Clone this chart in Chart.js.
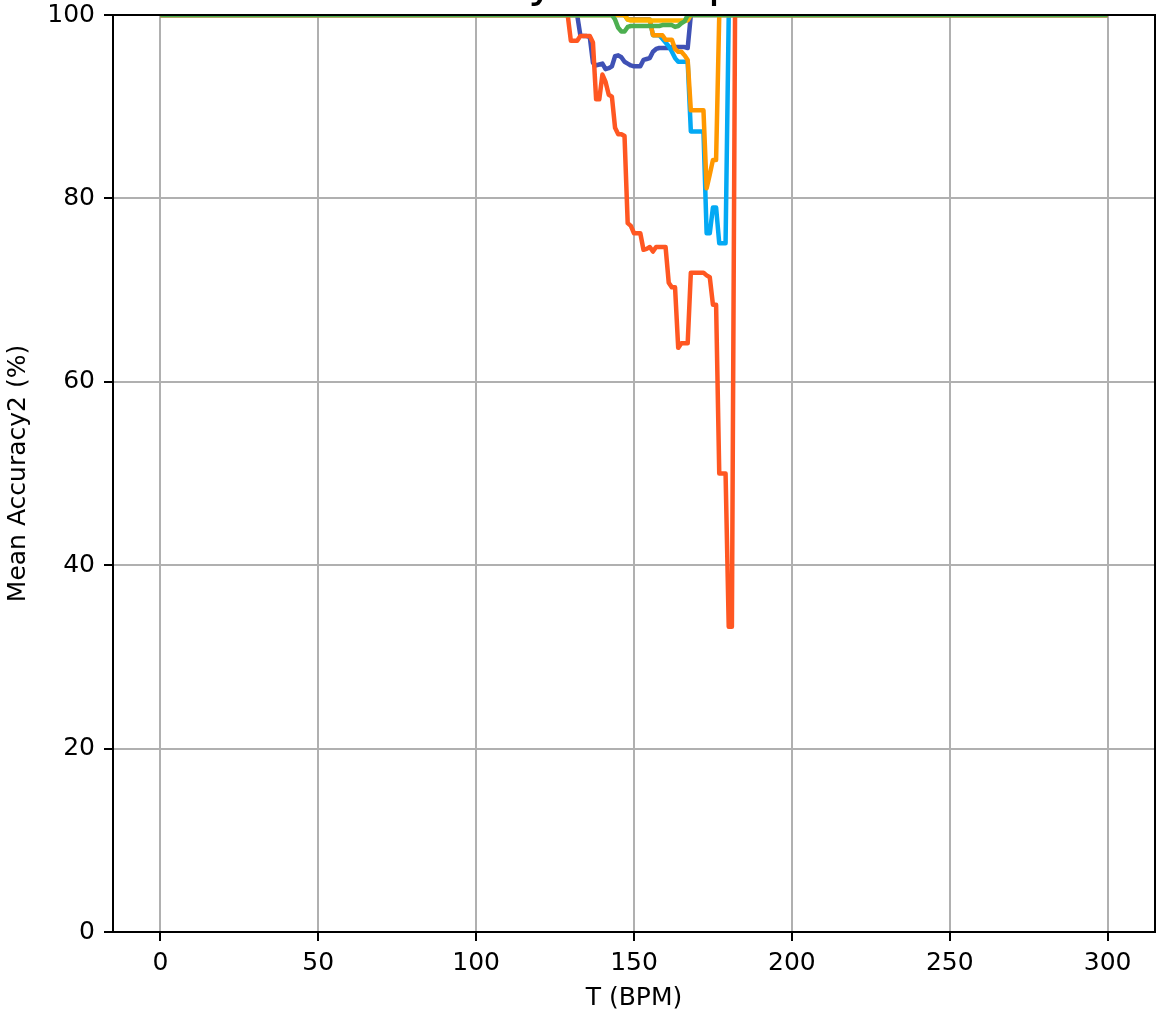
<!DOCTYPE html>
<html><head><meta charset="utf-8">
<script src="https://cdn.jsdelivr.net/npm/chart.js@4/dist/chart.umd.min.js"></script>
<style>html,body{margin:0;padding:0;background:#fff}canvas{display:block}</style>
</head><body>
<canvas id="c" width="1166" height="1017"></canvas>
<script>
// Tempo values (BPM) where the curves are sampled
const T = [0,
 127,128,129,130,131,132,133,134,135,136,137,138,139,140,141,142,143,144,145,146,
 147,148,149,150,151,152,153,154,155,156,157,158,159,160,161,162,163,164,165,166,
 167,168,169,170,171,172,173,174,175,176,177,178,179,180,181,182,183,
 300];

const indigoAcc = [100,
 100,100,100,100,100,100,97.8,97.7,97.7,97.6,94.8,94.5,94.6,94.7,94.1,94.2,94.4,95.5,95.6,95.4,
 94.9,94.7,94.5,94.4,94.4,94.4,95.1,95.2,95.3,96.0,96.3,96.4,96.4,96.4,96.4,96.5,96.5,96.5,96.5,96.5,
 96.4,100,100,100,100,100,100,100,100,100,100,100,100,100,100,100,100,
 100];

const lightBlueAcc = [100,
 100,100,100,100,100,100,100,100,100,100,100,100,100,100,100,100,100,100,100,100,
 100,99.5,99.5,99.5,99.5,99.5,99.5,99.5,99.5,97.8,97.8,97.8,97.4,97.0,96.6,96.0,95.3,94.9,94.9,94.9,
 94.9,87.3,87.3,87.3,87.3,87.3,76.2,76.2,79.0,79.0,75.1,75.1,75.1,100,100,100,100,
 100];

const orangeAcc = [100,
 100,100,100,100,100,100,100,100,100,100,100,100,100,100,100,100,100,100,100,100,
 100,99.5,99.5,99.5,99.5,99.5,99.5,99.5,99.5,97.8,97.8,97.8,97.8,97.3,97.3,97.3,96.3,96.0,96.0,95.6,
 95.1,89.6,89.6,89.6,89.6,89.6,81.1,82.6,84.2,84.2,100,100,100,100,100,100,100,
 100];

const amberAcc = [100,
 100,100,100,100,100,100,100,100,100,100,100,100,100,100,100,100,100,100,100,100,
 100,99.5,99.4,99.4,99.4,99.4,99.4,99.4,99.4,99.4,99.4,99.4,99.4,99.4,99.4,99.4,99.4,99.4,99.4,99.4,
 99.4,100,100,100,100,100,100,100,100,100,100,100,100,100,100,100,100,
 100];

const redAcc = [100,
 100,100,100,97.2,97.2,97.2,97.7,97.7,97.7,97.7,97.0,90.8,90.8,93.5,92.7,91.3,91.1,87.7,87.0,87.0,
 86.8,77.3,77.0,76.2,76.2,76.2,74.4,74.5,74.7,74.2,74.7,74.7,74.7,74.7,70.8,70.3,70.3,63.7,64.2,64.2,
 64.2,71.9,71.9,71.9,71.9,71.9,71.6,71.4,68.4,68.4,50.0,50.0,50.0,33.3,33.3,100,100,
 100];

const greenAcc = [100,
 100,100,100,100,100,100,100,100,100,100,100,100,100,100,100,100,100,99.5,98.6,98.2,
 98.2,98.7,98.8,98.8,98.8,98.8,98.8,98.8,98.8,98.8,98.8,98.8,98.9,98.9,98.9,98.9,98.7,98.8,99.1,99.3,
 100,100,100,100,100,100,100,100,100,100,100,100,100,100,100,100,100,
 100];

const xTicks = [0, 50, 100, 150, 200, 250, 300];
const yTicks = [0, 20, 40, 60, 80, 100];
const titleText = 'Mean Accuracy2 vs T per Model Variant';
const xTitle = 'T (BPM)';
const yTitle = 'Mean Accuracy2 (%)';

const FAM = '"DejaVu Sans", "Liberation Sans", sans-serif';

// bottom -> top drawing order
const series = [
  {label: 'indigo', values: indigoAcc, color: '#3F51B5'},
  {label: 'light blue', values: lightBlueAcc, color: '#03A9F4'},
  {label: 'orange', values: orangeAcc, color: '#FF9800'},
  {label: 'amber', values: amberAcc, color: '#FFB300'},
  {label: 'red', values: redAcc, color: '#FF5722'},
  {label: 'green', values: greenAcc, color: '#4CAF50'}
];

function pts(vals) { return T.map((t, i) => ({x: t, y: vals[i]})); }

const frame = {
  id: 'frame',
  afterDatasetsDraw(chart) {
    const {ctx, chartArea: a} = chart;
    ctx.save();
    ctx.strokeStyle = '#000';
    ctx.lineWidth = 2;
    ctx.strokeRect(a.left, a.top, a.right - a.left, a.bottom - a.top);
    ctx.restore();
  }
};

const cutTitle = {
  id: 'cutTitle',
  afterDraw(chart) {
    const {ctx, chartArea: a} = chart;
    ctx.save();
    ctx.setTransform(1, 0, 0, 1, 0, 0);
    ctx.font = '46px ' + FAM;
    ctx.fillStyle = '#000';
    ctx.textAlign = 'center';
    ctx.textBaseline = 'alphabetic';
    ctx.fillText(titleText, (a.left + a.right) / 2 + 26, -4);
    ctx.restore();
  }
};

const datasets = series.slice().reverse().map(s => ({
  label: s.label,
  data: pts(s.values),
  borderColor: s.color,
  backgroundColor: s.color,
  borderWidth: 4.5,
  pointRadius: 0,
  fill: false,
  tension: 0,
  clip: 0,
  borderJoinStyle: 'round',
  borderCapStyle: 'butt'
}));

new Chart(document.getElementById('c'), {
  type: 'line',
  data: {datasets},
  options: {
    responsive: false,
    devicePixelRatio: 1,
    animation: false,
    layout: {padding: {top: 15, right: 11, left: 0, bottom: 0}},
    plugins: {legend: {display: false}, title: {display: false}, tooltip: {enabled: false}},
    scales: {
      x: {
        type: 'linear', min: -15, max: 315,
        afterBuildTicks(s) { s.ticks = xTicks.map(v => ({value: v})); },
        afterFit(s) { s.height = 85; s.paddingLeft = 0; s.paddingRight = 0; },
        grid: {color: '#b0b0b0', lineWidth: 2, tickColor: '#000', tickLength: 9, tickWidth: 2},
        border: {display: false},
        ticks: {font: {family: FAM, size: 25}, color: '#000', padding: 7, maxRotation: 0, autoSkip: false},
        title: {display: true, text: xTitle, color: '#000', font: {family: FAM, size: 25}, padding: {top: 0, bottom: 4}}
      },
      y: {
        type: 'linear', min: 0, max: 100,
        afterBuildTicks(s) { s.ticks = yTicks.map(v => ({value: v})); },
        afterFit(s) { s.width = 113; s.paddingTop = 0; s.paddingBottom = 0; },
        grid: {color: '#b0b0b0', lineWidth: 2, tickColor: '#000', tickLength: 9, tickWidth: 2},
        border: {display: false},
        ticks: {font: {family: FAM, size: 25}, color: '#000', padding: 9, autoSkip: false},
        title: {display: true, text: yTitle, color: '#000', font: {family: FAM, size: 25}, padding: {top: 3, bottom: 0}}
      }
    }
  },
  plugins: [frame, cutTitle]
});
</script>
</body></html>
